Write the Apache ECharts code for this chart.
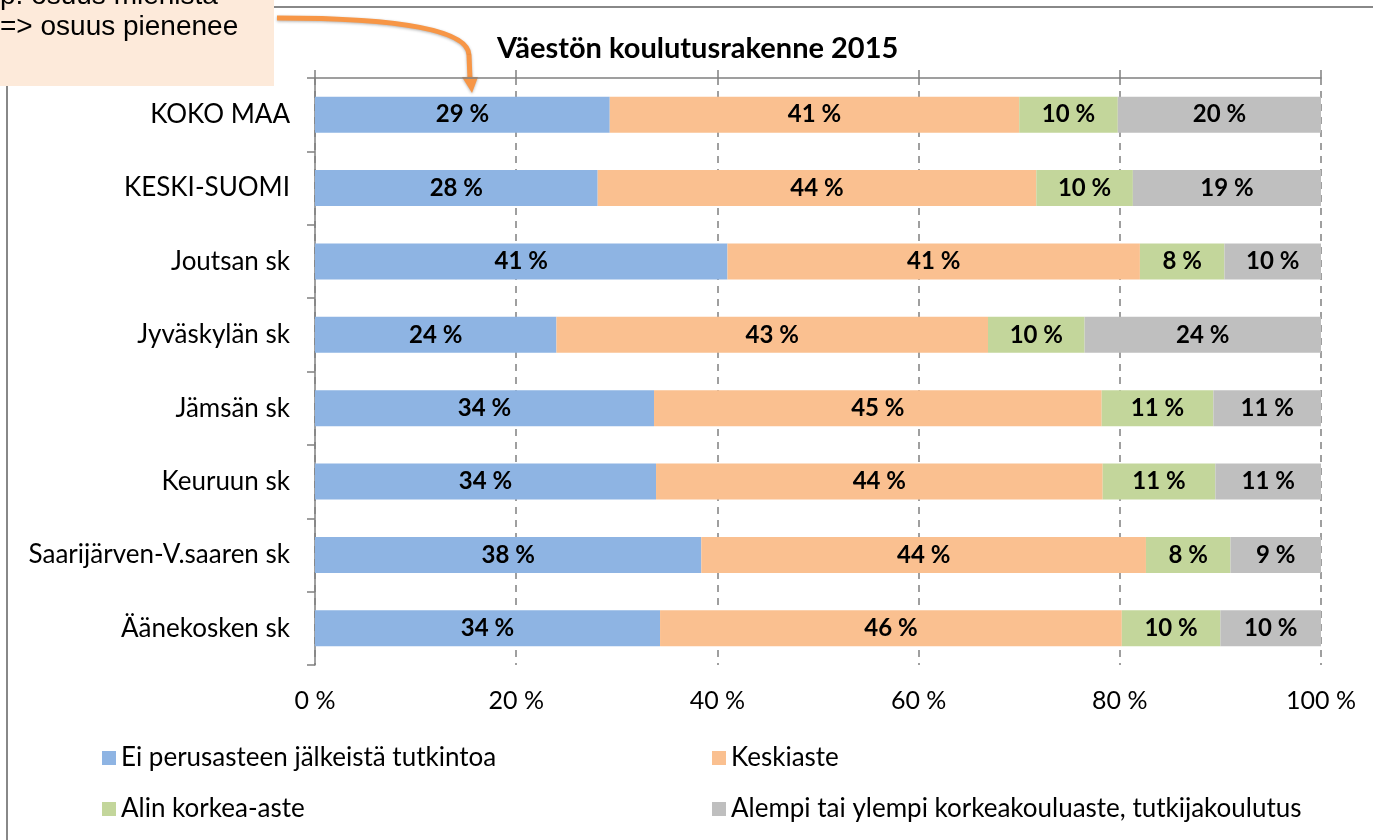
<!DOCTYPE html>
<html>
<head>
<meta charset="utf-8">
<script src="https://cdn.jsdelivr.net/npm/echarts@6/dist/echarts.min.js"></script>
<style>
  html, body { margin: 0; padding: 0; background: #fff; }
  #chart { width: 1373px; height: 840px; }
</style>
</head>
<body>
<div id="chart"></div>
<script>
// data (percent of population)
const areas = ['KOKO MAA', 'KESKI-SUOMI', 'Joutsan sk', 'Jyväskylän sk', 'Jämsän sk',
  'Keuruun sk', 'Saarijärven-V.saaren sk', 'Äänekosken sk'];
const seriesNames = ['Ei perusasteen jälkeistä tutkintoa', 'Keskiaste', 'Alin korkea-aste',
  'Alempi tai ylempi korkeakouluaste, tutkijakoulutus'];
const basic = [29.3, 28.1, 41.0, 24.0, 33.7, 33.9, 38.4, 34.3];
const secondary = [40.7, 43.6, 41.0, 42.9, 44.5, 44.4, 44.2, 45.9];
const lowestTertiary = [9.8, 9.6, 8.4, 9.6, 11.1, 11.2, 8.4, 9.8];
const higher = [20.2, 18.7, 9.6, 23.5, 10.7, 10.5, 9.0, 10.0];

const colors = ['#8EB4E3', '#FAC090', '#C3D69B', '#BFBFBF'];
const font = 'Lato, "Noto Sans", sans-serif';

const chart = echarts.init(document.getElementById('chart'));

function bar(name, values, color) {
  return {
    name: name,
    type: 'bar',
    stack: 'total',
    barWidth: '49%',
    data: values,
    itemStyle: { color: color },
    label: {
      show: true,
      position: 'inside',
      color: '#000',
      fontWeight: 'bold',
      fontSize: 24,
      fontFamily: font,
      formatter: p => Math.round(p.value) + ' %'
    }
  };
}

const arrowStyle = { stroke: '#F79646', lineWidth: 5, fill: null, shadowBlur: 3, shadowColor: 'rgba(0,0,0,0.3)', shadowOffsetY: 1 };

const option = {
  animation: false,
  textStyle: { fontFamily: font },
  title: {
    text: 'Väestön koulutusrakenne 2015',
    left: 492,
    top: 29,
    textStyle: { fontSize: 29, fontWeight: 'bold', color: '#000', fontFamily: font }
  },
  grid: { left: 315, right: 52, top: 78, bottom: 175 },
  xAxis: [
    {
      type: 'value',
      min: 0,
      max: 100,
      interval: 20,
      axisLine: { show: false },
      axisTick: { show: false },
      axisLabel: { formatter: v => v + ' %', color: '#000', fontSize: 25, margin: 23, fontFamily: font },
      splitLine: { show: true, lineStyle: { color: '#808080', type: [7, 6], width: 1.5 } }
    },
    {
      type: 'value',
      position: 'top',
      min: 0,
      max: 100,
      interval: 20,
      axisLine: { show: true, lineStyle: { color: '#808080', width: 1.5 } },
      axisTick: { show: true, length: 8, lineStyle: { color: '#808080', width: 1.5 } },
      axisLabel: { show: false },
      splitLine: { show: false }
    }
  ],
  yAxis: {
    type: 'category',
    data: areas,
    inverse: true,
    axisLine: { show: true, lineStyle: { color: '#808080', width: 1.5 } },
    axisTick: { show: true, length: 8, lineStyle: { color: '#808080', width: 1.5 } },
    axisLabel: { color: '#000', fontSize: 26, margin: 25, fontFamily: font }
  },
  legend: [
    {
      data: [seriesNames[0], seriesNames[2]],
      orient: 'vertical',
      left: 97,
      top: 740,
      itemWidth: 14,
      itemHeight: 14,
      itemGap: 25,
      icon: 'rect',
      textStyle: { fontSize: 26, color: '#000', fontFamily: font }
    },
    {
      data: [seriesNames[1], seriesNames[3]],
      orient: 'vertical',
      left: 707,
      top: 740,
      itemWidth: 14,
      itemHeight: 14,
      itemGap: 25,
      icon: 'rect',
      textStyle: { fontSize: 26, color: '#000', fontFamily: font }
    }
  ],
  series: [
    bar(seriesNames[0], basic, colors[0]),
    bar(seriesNames[1], secondary, colors[1]),
    bar(seriesNames[2], lowestTertiary, colors[2]),
    bar(seriesNames[3], higher, colors[3])
  ],
  graphic: [
    // slide frame lines
    { type: 'line', shape: { x1: 273, y1: 7, x2: 1373, y2: 7 }, style: { stroke: '#888', lineWidth: 2 } },
    { type: 'line', shape: { x1: 7, y1: 85, x2: 7, y2: 840 }, style: { stroke: '#888', lineWidth: 2 } },
    // annotation box
    { type: 'rect', shape: { x: 0, y: 0, width: 274, height: 86 }, style: { fill: '#FDEADA' } },
    { type: 'text', x: 0, y: -18, style: { text: 'p. osuus miehistä', font: '28px "Liberation Sans", Arial', fill: '#000' } },
    { type: 'text', x: 0, y: 13, style: { text: '=> osuus pienenee', font: '28px "Liberation Sans", Arial', fill: '#000' } },
    // arrow
    {
      type: 'bezierCurve',
      shape: { x1: 277, y1: 18, cpx1: 400, cpy1: 18, cpx2: 468, cpy2: 30, x2: 469, y2: 55 },
      style: arrowStyle
    },
    { type: 'line', shape: { x1: 469, y1: 55, x2: 470, y2: 79 }, style: arrowStyle },
    {
      type: 'polygon',
      shape: { points: [[462, 77], [478, 77], [472, 93]] },
      style: { fill: '#F79646', shadowBlur: 3, shadowColor: 'rgba(0,0,0,0.3)', shadowOffsetY: 1 }
    }
  ]
};

chart.setOption(option);
</script>
</body>
</html>
